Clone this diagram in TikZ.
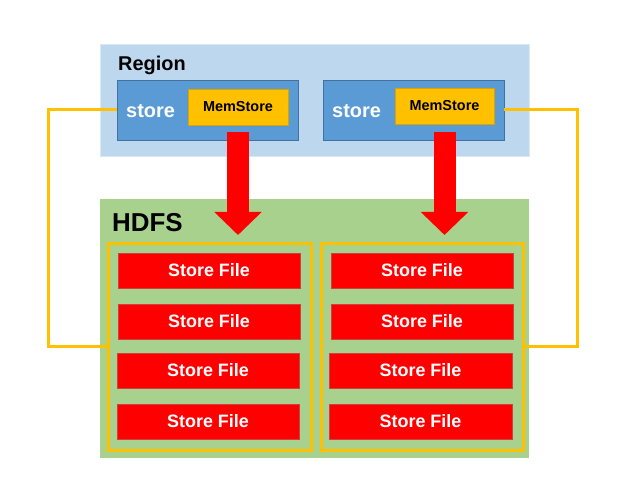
\documentclass[tikz,border=0pt]{standalone}
\usepackage{fontspec}
\setmainfont{Liberation Sans}
\usetikzlibrary{arrows.meta}
\definecolor{regionbg}{HTML}{BDD7EE}
\definecolor{regionedge}{HTML}{DAE8F5}
\definecolor{storebg}{HTML}{5B9BD5}
\definecolor{storeedge}{HTML}{41719C}
\definecolor{memyellow}{HTML}{FFC000}
\definecolor{memedge}{HTML}{D9A300}
\definecolor{hdfsbg}{HTML}{A9D18E}
\definecolor{fileedge}{HTML}{D04040}
\begin{document}
\begin{tikzpicture}[x=1bp,y=-1bp,
  box/.style={rectangle, inner sep=0pt, outer sep=0pt, anchor=north west},
  regionbox/.style={box, fill=regionbg, draw=regionedge, line width=1bp},
  hdfsbox/.style={box, fill=hdfsbg},
  storebox/.style={box, fill=storebg, draw=storeedge, line width=1bp},
  membox/.style={box, fill=memyellow, draw=memedge, line width=0.6bp,
    font=\fontsize{14.5}{16}\selectfont\bfseries, text=black},
  groupbox/.style={box, draw=memyellow, line width=3bp},
  filebox/.style={box, fill=red, draw=fileedge, line width=0.6bp,
    minimum height=35bp, font=\fontsize{18}{20}\selectfont\bfseries, text=white},
  title/.style={anchor=west, inner sep=0pt, text=black, font=\bfseries},
  storelabel/.style={anchor=west, inner sep=0pt, text=white,
    font=\fontsize{20}{22}\selectfont\bfseries},
  link/.style={draw=memyellow, line width=3bp},
  bigarrow/.style={draw=red, line width=22bp, -{Triangle[length=23bp,width=46bp]}},
]
\useasboundingbox[fill=white] (0,0) rectangle (635,480);

% Region
\node[regionbox, minimum width=429bp, minimum height=112bp] (region) at (100,45) {};
\node[title, font=\fontsize{20}{22}\selectfont\bfseries] (regiont) at (118,65.5) {Region};

% HDFS
\node[hdfsbox, minimum width=429bp, minimum height=259bp] (hdfs) at (100,199) {};
\node[title, font=\fontsize{26}{28}\selectfont\bfseries] (hdfst) at (112,223) {HDFS};

% stores
\node[storebox, minimum width=181bp, minimum height=60bp] (st1) at (117,81) {};
\node[storebox, minimum width=181bp, minimum height=60bp] (st2) at (323,81) {};
\node[storelabel] (st1t) at (126,111) {store};
\node[storelabel] (st2t) at (332,111) {store};
\node[membox, minimum width=100bp, minimum height=36bp] (ms1) at (188,89) {MemStore};
\node[membox, minimum width=99bp, minimum height=36bp] (ms2) at (395,88) {MemStore};

% groups
\node[groupbox, minimum width=203bp, minimum height=207bp] (grp1) at (108,243) {};
\node[groupbox, minimum width=202bp, minimum height=207bp] (grp2) at (321,243) {};

% store files
\node[filebox, minimum width=182bp] (f11) at (118,253) {Store File};
\node[filebox, minimum width=182bp] (f12) at (118,304) {Store File};
\node[filebox, minimum width=182bp] (f13) at (117,353) {Store File};
\node[filebox, minimum width=182bp] (f14) at (117,404) {Store File};
\node[filebox, minimum width=182bp] (f21) at (331,253) {Store File};
\node[filebox, minimum width=182bp] (f22) at (331,304) {Store File};
\node[filebox, minimum width=183bp] (f23) at (329,353) {Store File};
\node[filebox, minimum width=183bp] (f24) at (329,404) {Store File};

% flush arrows
\coordinate (a1s) at (238,132);
\coordinate (a1e) at (238,235);
\coordinate (a2s) at (444.5,132);
\coordinate (a2e) at (444.5,235);
\draw[bigarrow] (a1s) -- (a1e);
\draw[bigarrow] (a2s) -- (a2e);

% yellow links
\coordinate (lc) at (48,110);
\coordinate (rc) at (577,110);
\draw[link] (st1.west |- lc) -- (lc) |- (grp1.west);
\draw[link] (st2.east |- rc) -- (rc) |- (grp2.east);
\end{tikzpicture}
\end{document}
